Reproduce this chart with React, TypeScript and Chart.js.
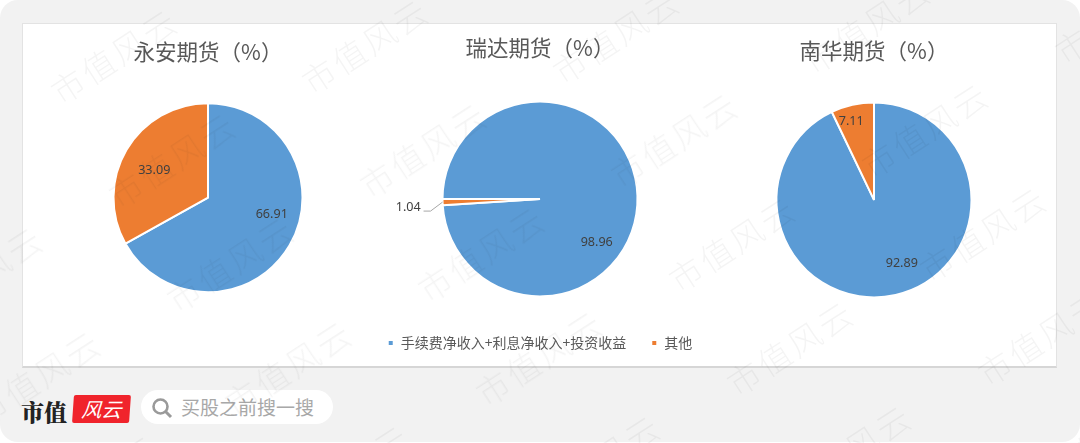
import React, { useEffect, useRef } from "react";
import { Chart, registerables } from "chart.js";

Chart.register(...registerables);

const categories = ["手续费净收入+利息净收入+投资收益", "其他"];
const yonganValues = [66.91, 33.09];
const ruidaValues = [98.96, 1.04];
const nanhuaValues = [92.89, 7.11];
const titles = ["永安期货（%）", "瑞达期货（%）", "南华期货（%）"];
const sliceColors = ["#5B9BD5", "#ED7D31"];
const FONT = '"Noto Sans CJK SC", "Noto Sans", sans-serif';

const sliceLabels = {
  id: "sliceLabels",
  afterDatasetsDraw(chart: any, _a: any, opts: any) {
    const { ctx } = chart;
    const meta = chart.getDatasetMeta(0);
    ctx.save();
    ctx.font = `12.6px "Noto Sans", sans-serif`;
    ctx.fillStyle = "#404040";
    ctx.textAlign = "center";
    ctx.textBaseline = "middle";
    meta.data.forEach((arc: any, i: number) => {
      const p = arc.tooltipPosition();
      const [dx, dy] = opts.offsets[i];
      ctx.fillText(String(chart.data.datasets[0].data[i].toFixed(2)), p.x + dx, p.y + dy);
      if (opts.leader === i) {
        const mid = (arc.startAngle + arc.endAngle) / 2;
        const sx = arc.x + Math.cos(mid) * arc.outerRadius;
        const sy = arc.y + Math.sin(mid) * arc.outerRadius;
        ctx.strokeStyle = "#A6A6A6";
        ctx.lineWidth = 1;
        ctx.beginPath();
        ctx.moveTo(sx, sy);
        ctx.lineTo(sx - 12, sy + 9);
        ctx.lineTo(sx - 19, sy + 9);
        ctx.stroke();
      }
    });
    ctx.restore();
  },
};

function makePie(
  canvas: HTMLCanvasElement,
  values: number[],
  title: string,
  cfg: { radius: number; rotation: number; titleTop: number; titleBottom: number; padBottom: number; offsets: number[][]; leader?: number; legend?: boolean }
) {
  return new Chart(canvas, {
    type: "pie",
    data: {
      labels: categories,
      datasets: [{ data: values, backgroundColor: sliceColors, borderColor: "#FFFFFF", borderWidth: 2 }],
    },
    plugins: [sliceLabels],
    options: {
      animation: false,
      responsive: false,
      radius: cfg.radius,
      rotation: cfg.rotation,
      layout: { padding: { bottom: cfg.padBottom } },
      plugins: {
        tooltip: { enabled: false },
        title: {
          display: true,
          text: title,
          color: "#595959",
          font: { family: FONT, size: 21.5, weight: "normal" },
          padding: { top: cfg.titleTop, bottom: cfg.titleBottom },
        },
        legend: {
          display: !!cfg.legend,
          position: "bottom",
          labels: {
            boxWidth: 6,
            boxHeight: 6,
            padding: 25,
            color: "#595959",
            font: { family: FONT, size: 14 },
          },
        },
        sliceLabels: { offsets: cfg.offsets, leader: cfg.leader },
      } as any,
    },
  } as any);
}

const waterA = [251, -10];
const waterB = [58, 104];
const marks: number[][] = [];
for (let j = -3; j < 6; j++) {
  for (let i = -3; i < 7; i++) {
    const x = 114 + i * waterA[0] + j * waterB[0];
    const y = 55 + i * waterA[1] + j * waterB[1];
    if (x > -90 && x < 1170 && y > -50 && y < 500) marks.push([x, y]);
  }
}

export default function App() {
  const c1 = useRef<HTMLCanvasElement>(null);
  const c2 = useRef<HTMLCanvasElement>(null);
  const c3 = useRef<HTMLCanvasElement>(null);

  useEffect(() => {
    const charts = [
      makePie(c1.current!, yonganValues, titles[0], {
        radius: 94.5, rotation: 0, titleTop: 16, titleBottom: 10, padBottom: 46.4,
        offsets: [[23, -7], [-13, -3]],
      }),
      makePie(c2.current!, ruidaValues, titles[1], {
        radius: 97.5, rotation: -90, titleTop: 12, titleBottom: 26, padBottom: 7,
        offsets: [[8, 45], [-83, 6.5]], leader: 1, legend: true,
      }),
      makePie(c3.current!, nanhuaValues, titles[2], {
        radius: 97.5, rotation: 0, titleTop: 15, titleBottom: 10, padBottom: 41,
        offsets: [[17, 16], [-12, -31]],
      }),
    ];
    return () => charts.forEach((c) => c.destroy());
  }, []);

  const canvasStyle = (left: number, width: number): React.CSSProperties => ({
    position: "absolute", left, top: 23, width, height: 344, display: "block",
  });

  return (
    <div style={{ position: "absolute", left: 0, top: 0, width: 1080, height: 443, overflow: "hidden", background: "#fff" }}>
      <div style={{ position: "absolute", left: 0, top: 0, width: 1080, height: 442, background: "#F2F2F2", borderRadius: 18 }} />
      <div style={{
        position: "absolute", left: 22, top: 23, width: 1035, height: 345, background: "#fff", boxSizing: "border-box",
        borderTop: "1px solid #E3E3E3", borderLeft: "1px solid #E3E3E3", borderRight: "1px solid #E3E3E3", borderBottom: "2px solid #D6D6D6",
      }} />
      <canvas ref={c1} width={300} height={344} style={canvasStyle(58, 300)} />
      <canvas ref={c2} width={398} height={344} style={canvasStyle(341, 398)} />
      <canvas ref={c3} width={300} height={344} style={canvasStyle(724, 300)} />

      <div style={{ position: "absolute", left: 21, top: 396, fontFamily: '"Noto Serif CJK SC", "Noto Sans CJK SC", serif', fontWeight: 900, fontSize: 23, lineHeight: "32px", color: "#222" }}>市值</div>
      <div style={{ position: "absolute", left: 73, top: 395, width: 57, height: 28, background: "#F0242C", borderRadius: 2, transform: "skewX(-4deg)", color: "#fff", fontFamily: FONT, fontStyle: "italic", fontSize: 20, lineHeight: "28px", textAlign: "center" }}>风云</div>
      <div style={{ position: "absolute", left: 141, top: 390, width: 192, height: 34, background: "#fff", borderRadius: 17 }}>
        <svg width="24" height="24" viewBox="0 0 24 24" style={{ position: "absolute", left: 9, top: 6 }}>
          <circle cx="10.5" cy="10.5" r="7" fill="none" stroke="#9A9A9A" strokeWidth="2.6" />
          <line x1="15.5" y1="15.5" x2="21" y2="21" stroke="#9A9A9A" strokeWidth="3" />
        </svg>
        <div style={{ position: "absolute", left: 40, top: 0, fontFamily: FONT, fontSize: 19, lineHeight: "34px", color: "#A8A8A8", whiteSpace: "nowrap" }}>买股之前搜一搜</div>
      </div>

      {marks.map(([x, y], i) => (
        <div key={i} style={{
          position: "absolute", left: x - 100, top: y - 20, width: 200, height: 40, textAlign: "center", lineHeight: "40px",
          transform: "rotate(-33deg)", fontFamily: FONT, fontWeight: 300, fontSize: 33, letterSpacing: 3,
          color: "rgba(0,0,0,0.045)", whiteSpace: "nowrap", pointerEvents: "none",
        }}>市值风云</div>
      ))}
    </div>
  );
}
